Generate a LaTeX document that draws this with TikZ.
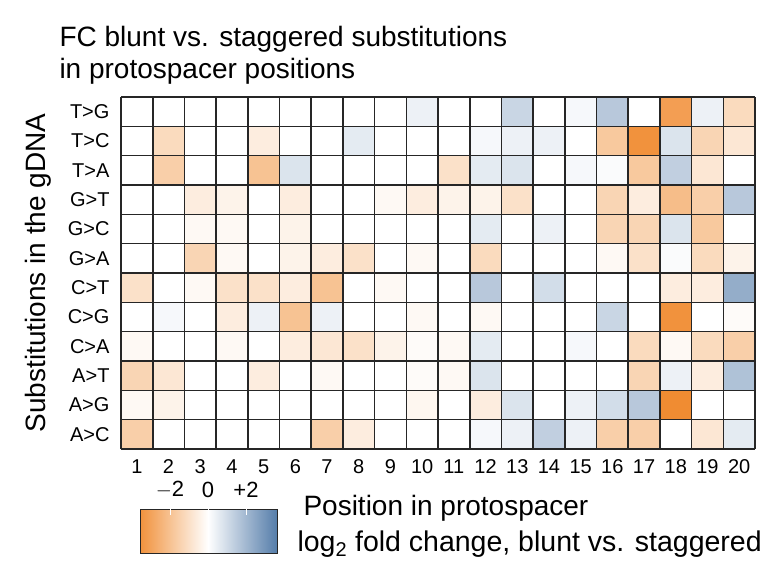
\documentclass[tikz,border=0pt]{standalone}
\usepackage{fontspec}
\setmainfont{Liberation Sans}
\definecolor{hmorange}{RGB}{240,140,50}
\definecolor{hmblue}{RGB}{85,125,170}
\tikzset{
  cell/.style={draw=black!85, line width=1.6pt},
  rowlab/.style={anchor=east, font=\fontsize{20}{20}\selectfont},
  collab/.style={anchor=center, font=\fontsize{20}{20}\selectfont},
  title/.style={anchor=west, font=\fontsize{28}{28}\selectfont}
}
\begin{document}
\begin{tikzpicture}[x=1pt,y=-1pt]
\useasboundingbox (0,0) rectangle (783,574);
\def \cw{31.7}
\def \ch{29.33}
\def \gx{121}
\def \gy{97}
% heatmap cells, one list per row, values -10 (orange) .. +10 (blue)
\foreach \lab [count=\r] / \vals in {
  T>G/{0,0,0,0,0,0,0,0,0,1,0,0,3,0,0.5,4,0,-8,1,-3},
  T>C/{0,-3,0,0,-1.5,0,0,1.5,0,0,0,0.5,1,1,0,-4.5,-9,2,-3.5,-2},
  T>A/{0,-4,0,0,-5,2,0,0,0,0,-2.5,1.5,2,0,0.5,0.3,-4.5,3.5,-2,0},
  G>T/{0,0,-1.5,-1,0,-1.5,0,0,-0.5,-1.5,-1,-1,-2.5,0,0,-3.5,-1.5,-5.5,-4,4},
  G>C/{0,0,-0.5,-0.5,0,-1,0,0,0,0,0,1.5,0,1,0,-3.5,-3.5,2,-4.5,0},
  G>A/{0,0,-3.5,-0.5,0,-1,-1.5,-2.5,0,-0.5,0,-3,0,0,0,-0.5,-2.5,0.3,-3,-1},
  C>T/{-2.5,0,-0.5,-2.5,-2.5,-1.5,-5,0,-0.5,0,0,4,0,2.5,0,0,0,-1.5,-1.5,6},
  C>G/{0,0.5,0,-1.5,1,-5,1,0,0,-0.5,0,-0.5,0,0,0,3,0,-9,0,-0.3},
  C>A/{-0.5,0,0,-0.5,0,-1.5,-2,-2.5,-1,-0.3,-0.5,1.5,0,0,0.5,0,-3,-0.5,-3,-4},
  A>T/{-3.5,-2,0,0,-1.5,0,-0.5,0,0,-0.3,-0.5,2,0,0,0,0,-3.5,1,-1.5,4.5},
  A>G/{-0.5,-1,0,0,0,0,0,0,0,-0.7,0,-1.5,2,0,1,2.5,4,-9.5,0,0},
  A>C/{-4,0,0,0,0,0,-4,-1.5,0,0,0,0.5,1,3.5,1,-4,-4,0,-2,1.5}} {
  \node[rowlab] (r\r) at (\gx-8,\gy+\ch*\r-\ch/2) {\lab};
  \foreach \v [count=\c] in \vals {
    \pgfmathsetmacro{\amt}{min(100,abs(\v)*10.5)}
    \ifdim \v pt<0pt \colorlet{cellc}{hmorange!\amt!white}\else \colorlet{cellc}{hmblue!\amt!white}\fi
    \fill[cellc] (\gx+\cw*\c-\cw,\gy+\ch*\r-\ch) rectangle ++(\cw,\ch);
  }
}
% grid lines
\foreach \c in {0,...,20} \draw[cell] (\gx+\cw*\c,\gy) -- ++(0,12*\ch);
\foreach \r in {0,...,12} \draw[cell] (\gx,\gy+\ch*\r) -- ++(20*\cw,0);
\foreach \c in {1,...,20} \node[collab] (c\c) at (\gx+\cw*\c-\cw/2,467) {\c};
% titles
\node[title] (t1) at (56,39) {FC blunt vs. staggered substitutions};
\node[title] (t2) at (56,71) {in protospacer positions};
\node[title, rotate=90, anchor=center] (ylab) at (38,273) {Substitutions in the gDNA};
\node[title] (xlab) at (300,508) {Position in protospacer};
\node[title, font=\fontsize{28.5}{28.5}\selectfont] (leg) at (294,544) {log\textsubscript{2} fold change, blunt vs. staggered};
% colour bar
\shade[left color=hmorange!95!white, right color=white] (140,509) rectangle (208,553);
\shade[left color=white, right color=hmblue] (208,509) rectangle (277,553);
\node[draw=black!85, line width=0.8pt, minimum width=137pt, minimum height=44pt, inner sep=0pt] (bar) at (208.5,531) {};
\foreach \x/\t in {170/$-$2,208/0,246/+2} {
  \draw[white, line width=0.8pt] (\x,509) -- ++(0,6);
  \node[collab, font=\fontsize{22}{22}\selectfont] at (\x,490) {\t};
}
\end{tikzpicture}
\end{document}
